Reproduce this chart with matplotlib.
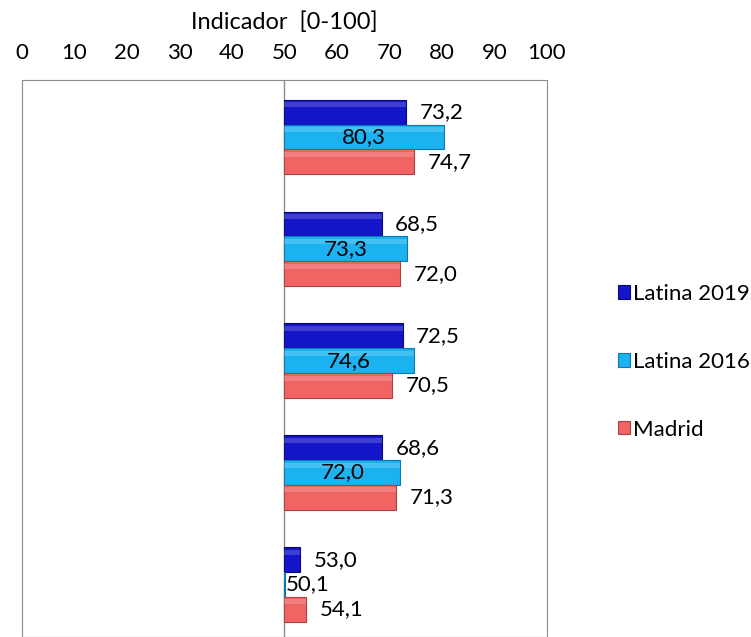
import numpy as np
import matplotlib
matplotlib.use('Agg')
import matplotlib.pyplot as plt

plt.rcParams['font.family'] = ['Lato', 'DejaVu Sans']

series = ['Latina 2019', 'Latina 2016', 'Madrid']
latina_2019 = [73.2, 68.5, 72.5, 68.6, 53.0]
latina_2016 = [80.3, 73.3, 74.6, 72.0, 50.1]
madrid = [74.7, 72.0, 70.5, 71.3, 54.1]
ticks = [0, 10, 20, 30, 40, 50, 60, 70, 80, 90, 100]

colors = ['#1414C8', '#1CB2F0', '#F06464']
edges = ['#0A0A78', '#0E78B0', '#B04040']
base = 50
h = 0.222
fs = 16

fig = plt.figure(figsize=(7.51, 6.37), dpi=100)
ax = fig.add_axes([0.0293, 0.0, 0.699, 0.8744])

y = np.arange(len(latina_2019))
data = [latina_2019, latina_2016, madrid]
offsets = [-h, 0, h]
for k, vals in enumerate(data):
    vals = np.array(vals)
    ax.barh(y + offsets[k], vals - base, left=base, height=h,
            color=colors[k], edgecolor=edges[k], linewidth=0.8,
            label=series[k], zorder=3)
    # light strip for a bevel look
    ax.barh(y + offsets[k] - h * 0.3, vals - base, left=base, height=h * 0.2,
            color='white', alpha=0.18, linewidth=0, zorder=4)
    for yi, v in zip(y, vals):
        lab = f'{v:.1f}'.replace('.', ',')
        if k == 1:
            xt = max((base + v) / 2, base + 4.5)
            ax.text(xt, yi + offsets[k], lab, ha='center', va='center',
                    fontsize=fs, color='black', zorder=5)
        else:
            ax.text(v + 2.6, yi + offsets[k], lab, ha='left', va='center',
                    fontsize=fs, color='black', zorder=5)

ax.set_xlim(0, 100)
ax.set_ylim(4.47, -0.51)
ax.axvline(base, color='#8c8c8c', linewidth=1.0, zorder=2)
ax.xaxis.tick_top()
ax.xaxis.set_label_position('top')
ax.set_xticks(ticks)
ax.set_xticklabels([str(t) for t in ticks], fontsize=fs)
ax.tick_params(axis='x', length=0, pad=12)
ax.set_yticks([])
ax.set_xlabel('Indicador  [0-100]', fontsize=17, labelpad=10)
for s in ax.spines.values():
    s.set_color('#8c8c8c')

handles, labels = ax.get_legend_handles_labels()
fig.legend(handles[:3], labels[:3], loc='center left', bbox_to_anchor=(0.823, 0.432),
           frameon=False, fontsize=fs, handlelength=0.55, handleheight=0.55,
           handletextpad=0.12, labelspacing=2.15, borderaxespad=0, borderpad=0)

fig.savefig('out.png', dpi=100)
